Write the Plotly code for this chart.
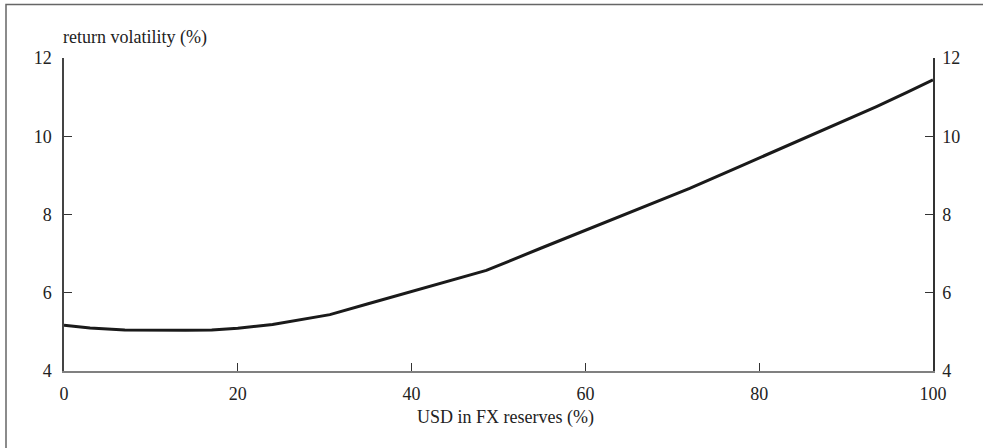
import plotly.graph_objects as go

# USD share in FX reserves (%) and resulting portfolio return volatility (%)
usd_share = [0, 3, 7, 11, 14, 17, 20, 24, 28, 30.6, 35, 40, 44, 48.6, 55, 60, 65, 72,
             78, 84, 89, 93.5, 97, 100]
volatility = [5.17, 5.10, 5.05, 5.04, 5.04, 5.05, 5.09, 5.19, 5.34, 5.44, 5.72, 6.03,
              6.28, 6.57, 7.15, 7.60, 8.05, 8.67, 9.25, 9.83, 10.31, 10.76, 11.12, 11.44]

x_ticks = [0, 20, 40, 60, 80, 100]
y_ticks = [4, 6, 8, 10, 12]

W, H = 983, 448
L, R, T, B = 64, 50, 58, 76.5
pw, ph = W - L - R, H - T - B

family = "Liberation Serif, Times New Roman, serif"
font = dict(family=family, size=18, color="#222")

fig = go.Figure()
fig.add_trace(go.Scatter(x=usd_share, y=volatility, mode="lines",
                         line=dict(color="#1a1a1a", width=3), hoverinfo="skip",
                         showlegend=False))
fig.add_trace(go.Scatter(x=usd_share, y=volatility, mode="lines", yaxis="y2",
                         line=dict(width=0), opacity=0, hoverinfo="skip",
                         showlegend=False))

axis_common = dict(ticks="inside", ticklen=8, tickwidth=1.2, tickcolor="#333",
                   showgrid=False, zeroline=False, tickfont=font)

fig.update_layout(
    width=W, height=H,
    margin=dict(l=L, r=R, t=T, b=B, pad=0),
    paper_bgcolor="white", plot_bgcolor="white",
    font=font,
    xaxis=dict(range=[0, 100], tickvals=x_ticks, showline=True, linecolor="#808080",
               linewidth=2, ticklabelstandoff=5, **axis_common),
    yaxis=dict(range=[4, 12], tickvals=y_ticks, showline=True, linecolor="#444",
               linewidth=1.5, ticklabelstandoff=7, **axis_common),
    yaxis2=dict(range=[4, 12], tickvals=y_ticks, overlaying="y", side="right",
                showline=True, linecolor="#333", linewidth=1.5, ticklabelstandoff=4,
                **axis_common),
    annotations=[
        dict(text="return volatility (%)", xref="paper", yref="paper",
             x=0, y=1, xanchor="left", yanchor="bottom", yshift=8, xshift=-3,
             showarrow=False, font=font),
        dict(text="USD in FX reserves (%)", xref="paper", yref="paper",
             x=0.5, y=0, xanchor="center", yanchor="middle", yshift=-46, xshift=7,
             showarrow=False, font=font),
    ],
    shapes=[dict(type="rect", xref="paper", yref="paper",
                 x0=(6 - L) / pw, x1=(W + 20 - L) / pw,
                 y0=-(H + 20 - (H - B)) / ph, y1=1 + (T - 4.5) / ph,
                 line=dict(color="#666", width=1.5), layer="below")],
)

fig.write_html("out.html")
